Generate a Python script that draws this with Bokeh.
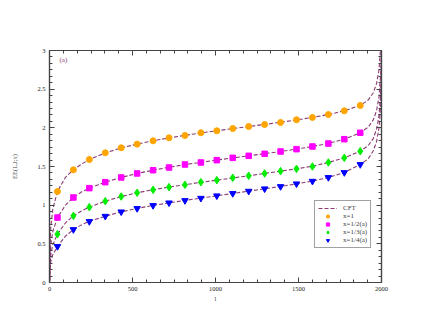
from bokeh.plotting import figure
from bokeh.models import Range1d, LinearAxis, Legend, LegendItem, Label, FixedTicker
from bokeh.embed import file_html
from bokeh.resources import INLINE

# ---- data ----
l_pts = [48, 144, 240, 336, 432, 528, 624, 720, 816, 912, 1008, 1104, 1200, 1296,
         1392, 1488, 1584, 1680, 1776, 1872]
ee_x1 = [1.177, 1.457, 1.59, 1.677, 1.742, 1.789, 1.832, 1.871, 1.901, 1.936,
         1.962, 1.991, 2.017, 2.043, 2.069, 2.104, 2.134, 2.172, 2.22, 2.289]
ee_x2 = [0.84, 1.099, 1.22, 1.297, 1.358, 1.41, 1.452, 1.487, 1.526, 1.552,
         1.582, 1.612, 1.638, 1.664, 1.694, 1.724, 1.759, 1.797, 1.853, 1.936]
ee_x3 = [0.625, 0.862, 0.974, 1.052, 1.112, 1.16, 1.198, 1.233, 1.263, 1.297,
         1.323, 1.354, 1.38, 1.41, 1.44, 1.47, 1.50, 1.552, 1.612, 1.698]
ee_x4 = [0.466, 0.685, 0.789, 0.857, 0.914, 0.957, 0.996, 1.03, 1.06, 1.09,
         1.121, 1.151, 1.181, 1.212, 1.241, 1.276, 1.31, 1.358, 1.422, 1.526]

l_cft = [1, 3, 8, 20, 48, 96, 144, 192, 240, 336, 432, 528, 624, 720, 816, 912,
         1008, 1104, 1200, 1296, 1392, 1488, 1584, 1680, 1776, 1872, 1920, 1950,
         1970, 1985, 1995, 1999]
cft_x1 = [0.05, 0.45, 0.72, 0.95, 1.18, 1.36, 1.46, 1.53, 1.59, 1.675, 1.74, 1.79,
          1.832, 1.87, 1.903, 1.934, 1.962, 1.99, 2.017, 2.044, 2.071, 2.102, 2.135,
          2.172, 2.22, 2.29, 2.36, 2.45, 2.57, 2.75, 3.05, 3.4]
cft_x2 = [0.03, 0.3, 0.5, 0.66, 0.84, 1.0, 1.1, 1.17, 1.22, 1.298, 1.358, 1.41,
          1.452, 1.49, 1.524, 1.554, 1.583, 1.611, 1.638, 1.665, 1.694, 1.725, 1.759,
          1.798, 1.852, 1.936, 2.01, 2.1, 2.22, 2.4, 2.7, 3.0]
cft_x3 = [0.02, 0.2, 0.36, 0.49, 0.625, 0.77, 0.862, 0.925, 0.974, 1.052, 1.112, 1.16,
          1.2, 1.234, 1.265, 1.295, 1.323, 1.352, 1.38, 1.41, 1.44, 1.47, 1.505,
          1.552, 1.612, 1.698, 1.77, 1.86, 1.98, 2.16, 2.45, 2.75]
cft_x4 = [0.01, 0.14, 0.27, 0.36, 0.466, 0.6, 0.685, 0.745, 0.79, 0.857, 0.913, 0.958,
          0.996, 1.03, 1.061, 1.091, 1.121, 1.151, 1.181, 1.211, 1.242, 1.275, 1.312,
          1.358, 1.422, 1.526, 1.6, 1.7, 1.82, 2.0, 2.3, 2.6]

labels = ["CFT", "x=1", "x=1/2(a)", "x=1/3(a)", "x=1/4(a)"]
x_ticks = [0, 500, 1000, 1500, 2000]
y_ticks = [0, 0.5, 1, 1.5, 2, 2.5, 3]

FONT = "Liberation Serif"
CURVE = "#8b3a73"
AXC = "#444444"

p = figure(frame_width=332, frame_height=232, output_backend="svg",
           toolbar_location=None,
           x_range=Range1d(0, 2000), y_range=Range1d(0, 3),
           min_border_left=49, min_border_right=41, min_border_top=50,
           min_border_bottom=42)
p.grid.visible = False
p.outline_line_color = AXC
p.outline_line_width = 1.2

for y in (cft_x1, cft_x2, cft_x3, cft_x4):
    r_cft = p.line(l_cft, y, line_color=CURVE, line_dash="4 2", line_width=1.1)
cft_item_r = r_cft

r1 = p.scatter(l_pts, ee_x1, marker="circle", size=6, fill_color="#ffa500", line_color="#ffa500")
r2 = p.scatter(l_pts, ee_x2, marker="square", size=5.5, fill_color="#ff00ff", line_color="#ff00ff")
r3 = p.scatter(l_pts, ee_x3, marker="diamond", size=7.5, fill_color="#00ee00", line_color="#00ee00")
r4 = p.scatter(l_pts, ee_x4, marker="inverted_triangle", size=6.5, fill_color="#0000ff", line_color="#0000ff")

def style_axis(ax, show_labels):
    ax.axis_line_color = AXC
    ax.axis_line_width = 1.2
    ax.major_tick_in = 5
    ax.major_tick_out = 0
    ax.minor_tick_in = 3
    ax.minor_tick_out = 0
    ax.major_tick_line_color = AXC
    ax.minor_tick_line_color = AXC
    ax.major_label_text_font = FONT
    ax.major_label_text_font_size = "6.5px"
    ax.major_label_text_color = "#222222"
    ax.axis_label_text_font = FONT
    ax.axis_label_text_font_size = "6.5px"
    ax.axis_label_text_font_style = "normal"
    ax.major_label_standoff = 4
    if not show_labels:
        ax.major_label_text_font_size = "0px"
        ax.major_label_text_color = None

xt = FixedTicker(ticks=x_ticks, minor_ticks=[i * 500 / 6 for i in range(25)])
yt = FixedTicker(ticks=y_ticks, minor_ticks=[i * 0.5 / 6 for i in range(37)])

p.xaxis.ticker = xt
p.yaxis.ticker = yt
style_axis(p.xaxis[0], True)
style_axis(p.yaxis[0], True)
p.xaxis.axis_label = "l"
p.xaxis.axis_label_standoff = 1
p.yaxis.axis_label = "EE(L,l;x)"
p.yaxis.axis_label_standoff = 16

top = LinearAxis(ticker=xt)
style_axis(top, False)
p.add_layout(top, "above")
right = LinearAxis(ticker=yt)
style_axis(right, False)
p.add_layout(right, "right")

legend = Legend(items=[LegendItem(label=labels[0], renderers=[cft_item_r]),
                       LegendItem(label=labels[1], renderers=[r1]),
                       LegendItem(label=labels[2], renderers=[r2]),
                       LegendItem(label=labels[3], renderers=[r3]),
                       LegendItem(label=labels[4], renderers=[r4])],
                location=(265, 34))
legend.label_text_font = FONT
legend.label_text_font_size = "7px"
legend.label_height = 8
legend.glyph_height = 8
legend.glyph_width = 19
legend.label_standoff = 6
legend.spacing = 0
legend.padding = 3
legend.margin = 0
legend.border_line_color = AXC
legend.border_line_width = 1
legend.background_fill_alpha = 1
p.add_layout(legend, "center")

p.add_layout(Label(x=60, y=2.88, text="(a)", text_font=FONT, text_font_size="7px",
                   text_color=CURVE, text_baseline="middle"))

open("out.html", "w").write(file_html(p, INLINE))
